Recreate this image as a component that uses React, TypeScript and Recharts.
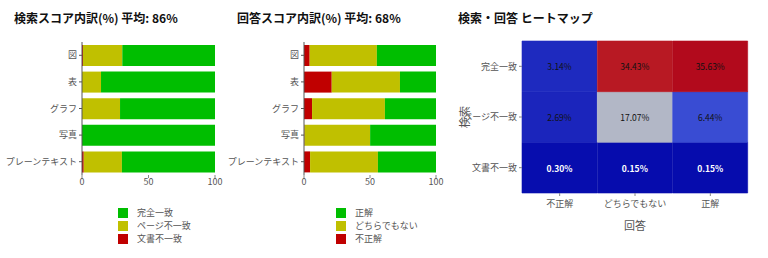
import React from 'react';
import { BarChart, Bar, XAxis, YAxis, Cell, LabelList } from 'recharts';

const categories = ['図', '表', 'グラフ', '写真', 'プレーンテキスト'];

// 検索スコア内訳
const searchDocMismatch = [0.7, 0, 0, 0, 1.3];
const searchPageMismatch = [29.6, 14.3, 28.6, 0, 28.7];
const searchExact = [69.7, 85.7, 71.4, 100, 70.0];

// 回答スコア内訳
const answerWrong = [4.3, 21.0, 6.1, 0.3, 4.6];
const answerNeither = [50.9, 51.7, 55.2, 49.8, 51.4];
const answerCorrect = [44.8, 27.3, 38.7, 49.9, 44.0];

// ヒートマップ
const heatCols = ['不正解', 'どちらでもない', '正解'];
const heatRows = ['文書不一致', 'ページ不一致', '完全一致']; // bottom -> top
const heatDoc = [0.3, 0.15, 0.15];
const heatPage = [2.69, 17.07, 6.44];
const heatExact = [3.14, 34.43, 35.63];

const FONT = '"Noto Sans CJK JP", "Noto Sans", sans-serif';
const GREEN = '#00be00';
const YELLOW = '#c0c000';
const RED = '#c00000';

const searchData = categories.map((c, i) => ({
  name: c,
  doc: searchDocMismatch[i],
  page: searchPageMismatch[i],
  exact: searchExact[i],
}));
const answerData = categories.map((c, i) => ({
  name: c,
  wrong: answerWrong[i],
  neither: answerNeither[i],
  correct: answerCorrect[i],
}));
const heatData = heatCols.map((c, i) => ({
  name: c,
  r0: 1,
  r1: 1,
  r2: 1,
  v0: heatDoc[i],
  v1: heatPage[i],
  v2: heatExact[i],
}));

const scale: [number, number[]][] = [
  [0, [5, 10, 172]],
  [0.35, [106, 137, 247]],
  [0.5, [190, 190, 190]],
  [0.6, [220, 170, 132]],
  [0.7, [230, 145, 90]],
  [1, [178, 10, 28]],
];
const zMax = Math.max(...heatExact, ...heatPage, ...heatDoc);
function heatColor(v: number) {
  const t = Math.min(1, Math.max(0, v / zMax));
  for (let i = 1; i < scale.length; i++) {
    if (t <= scale[i][0]) {
      const [t0, c0] = scale[i - 1];
      const [t1, c1] = scale[i];
      const f = (t - t0) / (t1 - t0);
      const c = c0.map((x, k) => Math.round(x + (c1[k] - x) * f));
      return `rgb(${c[0]},${c[1]},${c[2]})`;
    }
  }
  return 'rgb(178,10,28)';
}

const tickStyle = { fontSize: 9, fill: '#555', fontFamily: FONT };

const titleStyle: React.CSSProperties = {
  position: 'absolute',
  top: 9,
  fontSize: 12,
  fontWeight: 'bold',
  fontFamily: FONT,
  color: '#111',
  whiteSpace: 'nowrap',
};

function LegendBox({ left, items }: { left: number; items: [string, string][] }) {
  return (
    <div style={{ position: 'absolute', left, top: 206, fontFamily: FONT, fontSize: 9, color: '#555' }}>
      {items.map(([label, color]) => (
        <div key={label} style={{ display: 'flex', alignItems: 'center', height: 13 }}>
          <div style={{ width: 10, height: 10, background: color, marginRight: 9 }} />
          <span>{label}</span>
        </div>
      ))}
    </div>
  );
}

function makeHeatLabel(vKey: 'v0' | 'v1' | 'v2', white: boolean) {
  return (props: any) => {
    const { x, y, width, height, index } = props;
    const v = heatData[index][vKey];
    return (
      <text
        x={x + width / 2}
        y={y + height / 2}
        textAnchor="middle"
        dominantBaseline="central"
        fontSize={8.5}
        fontFamily={FONT}
        fontWeight={white ? 'bold' : 'normal'}
        fill={white ? '#fff' : '#111'}
      >
        {v.toFixed(2)}%
      </text>
    );
  };
}

export default function App() {
  return (
    <div style={{ position: 'fixed', left: 0, top: 0, width: 768, height: 258, background: '#fff', overflow: 'hidden' }}>
      <div style={{ ...titleStyle, left: 14 }}>検索スコア内訳(%) 平均: 86%</div>
      <div style={{ ...titleStyle, left: 237 }}>回答スコア内訳(%) 平均: 68%</div>
      <div style={{ ...titleStyle, left: 458 }}>検索・回答 ヒートマップ</div>

      <div style={{ position: 'absolute', left: 0, top: 0 }}>
        <BarChart width={230} height={258} data={searchData} layout="vertical"
          margin={{ top: 42, right: 15, left: 0, bottom: 63 }} barSize={21}>
          <XAxis type="number" domain={[0, 100]} ticks={[0, 50, 100]} axisLine={false}
            tickSize={3} tickLine={{ stroke: '#888' }} tick={tickStyle} tickMargin={1} height={20} />
          <YAxis type="category" dataKey="name" width={82} axisLine={{ stroke: '#555' }}
            tickLine={{ stroke: '#555' }} tickSize={3} tick={tickStyle} />
          <Bar dataKey="doc" stackId="a" fill={RED} isAnimationActive={false} />
          <Bar dataKey="page" stackId="a" fill={YELLOW} isAnimationActive={false} />
          <Bar dataKey="exact" stackId="a" fill={GREEN} isAnimationActive={false} />
        </BarChart>
      </div>

      <div style={{ position: 'absolute', left: 222, top: 0 }}>
        <BarChart width={230} height={258} data={answerData} layout="vertical"
          margin={{ top: 42, right: 16, left: 0, bottom: 63 }} barSize={21}>
          <XAxis type="number" domain={[0, 100]} ticks={[0, 50, 100]} axisLine={false}
            tickSize={3} tickLine={{ stroke: '#888' }} tick={tickStyle} tickMargin={1} height={20} />
          <YAxis type="category" dataKey="name" width={82} axisLine={{ stroke: '#555' }}
            tickLine={{ stroke: '#555' }} tickSize={3} tick={tickStyle} />
          <Bar dataKey="wrong" stackId="a" fill={RED} isAnimationActive={false} />
          <Bar dataKey="neither" stackId="a" fill={YELLOW} isAnimationActive={false} />
          <Bar dataKey="correct" stackId="a" fill={GREEN} isAnimationActive={false} />
        </BarChart>
      </div>

      <div style={{ position: 'absolute', left: 440, top: 0 }}>
        <BarChart width={320} height={258} data={heatData}
          margin={{ top: 41, right: 12, left: 0, bottom: 25 }} barCategoryGap={0} barGap={0}>
          <XAxis dataKey="name" axisLine={false} tickSize={3} tickLine={{ stroke: '#888' }}
            tick={tickStyle} height={40} tickMargin={5}
            label={{ value: '回答', position: 'insideBottom', offset: 3, fontSize: 11, fill: '#555', fontFamily: FONT }} />
          <YAxis type="number" domain={[0, 3]} ticks={[0.5, 1.5, 2.5]} width={82}
            tickFormatter={(v: number) => heatRows[Math.floor(v)]} axisLine={false}
            tickLine={{ stroke: '#888' }} tickSize={3} tick={tickStyle}
            label={{
              content: (p: any) => {
                const vb = p.viewBox || {};
                const cx = 24;
                const cy = (vb.y ?? 41) + (vb.height ?? 152) / 2;
                return (
                  <text x={cx} y={cy} transform={`rotate(-90, ${cx}, ${cy})`} textAnchor="middle"
                    dominantBaseline="central" fontSize={11} fill="#555" fontFamily={FONT}>検索</text>
                );
              },
            }} />
          <Bar dataKey="r0" stackId="h" isAnimationActive={false}>
            {heatData.map((d, i) => <Cell key={i} fill={heatColor(d.v0)} stroke={heatColor(d.v0)} strokeWidth={0.6} />)}
            <LabelList dataKey="r0" content={makeHeatLabel('v0', true)} />
          </Bar>
          <Bar dataKey="r1" stackId="h" isAnimationActive={false}>
            {heatData.map((d, i) => <Cell key={i} fill={heatColor(d.v1)} stroke={heatColor(d.v1)} strokeWidth={0.6} />)}
            <LabelList dataKey="r1" content={makeHeatLabel('v1', false)} />
          </Bar>
          <Bar dataKey="r2" stackId="h" isAnimationActive={false}>
            {heatData.map((d, i) => <Cell key={i} fill={heatColor(d.v2)} stroke={heatColor(d.v2)} strokeWidth={0.6} />)}
            <LabelList dataKey="r2" content={makeHeatLabel('v2', false)} />
          </Bar>
        </BarChart>
      </div>

      <LegendBox left={118} items={[['完全一致', GREEN], ['ページ不一致', YELLOW], ['文書不一致', RED]]} />
      <LegendBox left={336} items={[['正解', GREEN], ['どちらでもない', YELLOW], ['不正解', RED]]} />
    </div>
  );
}
